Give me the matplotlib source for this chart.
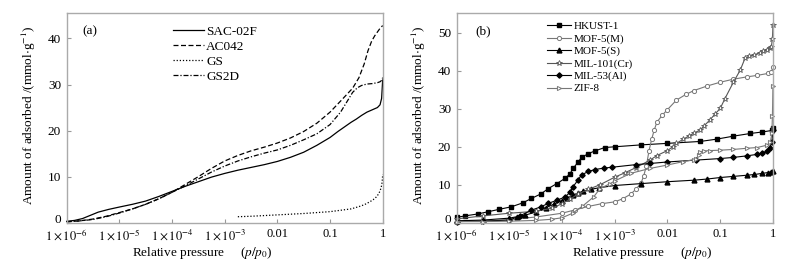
import numpy as np
import matplotlib
matplotlib.use("Agg")
import matplotlib.pyplot as plt
from matplotlib.transforms import ScaledTranslation

plt.rcParams['font.family'] = ['Liberation Serif', 'DejaVu Serif']
plt.rcParams['mathtext.fontset'] = 'stix'

# ---------------- data (a) ----------------
# log10(p/p0) and adsorbed amount (mmol/g)
sac_lp = [-6.0, -5.85, -5.7, -5.55, -5.4, -5.2, -5.0, -4.75, -4.5, -4.25, -4.0, -3.75, -3.5, -3.25, -3.0,
          -2.75, -2.5, -2.25, -2.0, -1.75, -1.5, -1.25, -1.0, -0.85, -0.7, -0.6, -0.5, -0.4, -0.3, -0.2,
          -0.1, -0.05, -0.02, 0.0]
sac_q = [0.3, 0.5, 0.9, 1.6, 2.3, 2.9, 3.4, 4.0, 4.7, 5.7, 6.8, 7.9, 8.9, 9.9, 10.7,
         11.4, 12.0, 12.6, 13.3, 14.2, 15.3, 16.8, 18.5, 19.8, 21.0, 21.8, 22.5, 23.3, 24.0, 24.5,
         25.0, 25.6, 27.0, 31.0]

ac_lp = [-6.0, -5.75, -5.5, -5.25, -5.0, -4.75, -4.5, -4.25, -4.0, -3.75, -3.5, -3.25, -3.0, -2.75,
         -2.5, -2.25, -2.0, -1.75, -1.5, -1.25, -1.0, -0.8, -0.57, -0.45, -0.35, -0.28, -0.21, -0.15,
         -0.1, -0.05, 0.0]
ac_q = [0.2, 0.4, 0.8, 1.4, 2.2, 3.0, 4.0, 5.2, 6.6, 8.3, 10.0, 11.8, 13.4, 14.6,
        15.6, 16.4, 17.3, 18.4, 19.8, 21.6, 24.0, 26.4, 29.2, 31.5, 34.5, 37.3, 39.4, 40.6,
        41.4, 42.2, 42.8]

gs_lp = [-2.75, -2.5, -2.25, -2.0, -1.75, -1.5, -1.25, -1.0, -0.8, -0.6, -0.45, -0.35, -0.25, -0.18,
         -0.12, -0.08, -0.05, -0.03, -0.015, -0.005, 0.0]
gs_q = [1.3, 1.4, 1.55, 1.7, 1.85, 2.0, 2.2, 2.4, 2.7, 3.0, 3.5, 3.9, 4.5, 5.0,
        5.6, 6.2, 6.9, 7.6, 8.4, 9.5, 10.5]

gs2d_lp = [-6.0, -5.75, -5.5, -5.25, -5.0, -4.75, -4.5, -4.25, -4.0, -3.75, -3.5, -3.25, -3.0, -2.75,
           -2.5, -2.25, -2.0, -1.75, -1.5, -1.25, -1.0, -0.8, -0.65, -0.57, -0.48, -0.4, -0.3, -0.2,
           -0.1, -0.05, -0.02, 0.0]
gs2d_q = [0.2, 0.4, 0.7, 1.3, 2.1, 3.0, 4.0, 5.2, 6.6, 8.0, 9.5, 11.0, 12.3, 13.4,
          14.3, 15.1, 15.8, 16.8, 18.0, 19.3, 21.3, 24.0, 26.8, 28.3, 29.3, 29.8, 30.1, 30.2,
          30.4, 30.6, 30.9, 31.5]

# ---------------- data (b) ----------------
hk_lp = [-6.0, -5.84, -5.6, -5.4, -5.2, -4.96, -4.75, -4.58, -4.4, -4.26, -4.1, -3.94, -3.85, -3.79,
         -3.7, -3.63, -3.5, -3.38, -3.19, -3.0, -2.5, -2.0, -1.38, -1.07, -0.75, -0.43, -0.2, -0.02, 0.0]
hk_q = [1.4, 1.8, 2.3, 2.9, 3.5, 4.2, 5.2, 6.4, 7.6, 9.0, 10.3, 11.7, 12.9, 14.3,
        15.9, 17.2, 18.2, 18.9, 19.8, 20.0, 20.5, 20.9, 21.4, 22.0, 22.8, 23.5, 23.9, 24.3, 25.0]

m5m_lp = [-6.0, -5.5, -5.0, -4.5, -4.0, -3.75, -3.5, -3.25, -3.0, -2.85, -2.7, -2.6, -2.5, -2.45,
          -2.4, -2.35, -2.3, -2.25, -2.2, -2.1, -2.0, -1.83, -1.65, -1.5, -1.25, -1.0, -0.75, -0.5,
          -0.3, -0.1, -0.03, 0.0]
m5m_q = [0.5, 0.4, 0.8, 1.5, 2.5, 3.4, 4.3, 5.0, 5.5, 6.3, 7.5, 8.8, 10.5, 12.4,
         15.0, 19.0, 22.0, 24.5, 26.5, 28.3, 29.8, 32.3, 33.8, 34.8, 36.0, 37.0, 37.8, 38.4,
         38.8, 39.3, 39.6, 41.0]

m5s_lp = [-6.0, -5.5, -5.0, -4.85, -4.7, -4.5, -4.3, -4.15, -4.0, -3.9, -3.8, -3.7, -3.6, -3.45,
          -3.3, -3.0, -2.5, -2.0, -1.5, -1.25, -1.0, -0.75, -0.5, -0.35, -0.2, -0.1, -0.03, 0.0]
m5s_q = [0.5, 0.7, 1.2, 1.6, 2.0, 2.8, 4.0, 4.9, 5.8, 6.5, 7.2, 7.8, 8.3, 8.8,
         9.2, 9.8, 10.3, 10.8, 11.2, 11.5, 11.9, 12.2, 12.5, 12.7, 13.0, 13.2, 13.4, 13.6]

m101_lp = [-6.0, -5.5, -5.0, -4.5, -4.2, -4.0, -3.85, -3.7, -3.5, -3.28, -3.0, -2.8, -2.6, -2.33,
           -2.2, -2.0, -1.9, -1.83, -1.7, -1.6, -1.5, -1.38, -1.3, -1.2, -1.1, -1.0, -0.91, -0.75,
           -0.62, -0.53, -0.45, -0.35, -0.25, -0.18, -0.12, -0.06, -0.03, -0.01, 0.0]
m101_q = [1.0, 1.8, 2.5, 3.0, 3.8, 5.0, 6.2, 7.5, 8.8, 10.0, 12.0, 13.2, 14.5, 16.5,
          17.7, 19.0, 20.0, 20.9, 22.0, 22.8, 23.6, 24.4, 25.6, 27.0, 28.6, 30.1, 32.7, 37.0,
          40.2, 43.3, 43.8, 44.2, 44.8, 45.2, 45.6, 46.0, 46.3, 48.5, 52.0]

m53_lp = [-6.0, -5.5, -5.0, -4.8, -4.58, -4.4, -4.26, -4.1, -3.94, -3.85, -3.79, -3.7, -3.63, -3.5,
          -3.38, -3.2, -3.06, -2.6, -2.33, -2.0, -1.45, -1.0, -0.75, -0.5, -0.3, -0.2, -0.12, -0.06,
          -0.02, 0.0]
m53_q = [0.3, 0.4, 0.7, 1.8, 3.3, 4.2, 5.1, 5.9, 6.8, 8.0, 9.5, 11.2, 12.6, 13.5,
         14.0, 14.4, 14.6, 15.3, 15.6, 16.0, 16.5, 16.9, 17.2, 17.6, 18.0, 18.3, 18.8, 19.8,
         21.2, 24.5]

zif_lp = [-6.0, -5.5, -5.0, -4.5, -4.2, -4.0, -3.8, -3.6, -3.4, -3.28, -3.1, -3.0, -2.7, -2.33,
          -2.0, -1.7, -1.5, -1.45, -1.4, -1.38, -1.3, -1.2, -1.0, -0.75, -0.5, -0.3, -0.12, -0.05,
          -0.02, -0.01, 0.0]
zif_q = [0.3, 0.3, 0.4, 0.6, 0.9, 1.3, 2.5, 4.5, 6.8, 9.0, 10.2, 11.0, 13.0, 14.3,
         15.2, 16.1, 16.6, 16.9, 17.8, 18.7, 18.9, 19.0, 19.1, 19.3, 19.6, 19.8, 20.4, 21.2,
         23.5, 28.0, 36.0]

xtick_exp = [-6, -5, -4, -3, -2, -1, 0]
xtick_lab = [r'$1\times10^{-6}$', r'$1\times10^{-5}$', r'$1\times10^{-4}$', r'$1\times10^{-3}$',
             '0.01', '0.1', '1']


def p(lp):
    return 10.0 ** np.array(lp)


def style_axes(ax, ymax, yticks, labx):
    ax.set_xscale('log')
    ax.set_xlim(1e-6, 1)
    ax.set_ylim(0, ymax)
    ax.set_xticks(10.0 ** np.array(xtick_exp))
    ax.set_xticklabels(xtick_lab)
    ax.minorticks_off()
    ax.set_yticks(yticks)
    for s in ax.spines.values():
        s.set_color('#aaaaaa')
        s.set_linewidth(1.0)
    ax.tick_params(direction='in', length=3, width=0.8, color='#999999', labelsize=9.5, pad=4)
    ax.tick_params(axis='x', labelsize=9, pad=4)
    ax.set_ylabel(r'Amount of adsorbed /(mmol$\cdot$g$^{-1}$)', fontsize=9.5)
    ax.set_xlabel(r'Relative pressure     ($p/p_0$)', fontsize=9.5)
    ax.yaxis.set_label_coords(-0.09, 0.51)
    ax.xaxis.set_label_coords(labx, -0.105)


fig = plt.figure(figsize=(7.9, 2.61), dpi=100)
ax1 = fig.add_axes([0.0844, 0.1467, 0.400, 0.803])
ax2 = fig.add_axes([0.578, 0.1467, 0.4004, 0.803])

# (a)
ax1.plot(p(sac_lp), sac_q, color='k', lw=0.9, ls='-', label='SAC-02F', clip_on=False)
ax1.plot(p(ac_lp), ac_q, color='k', lw=0.9, ls=(0, (4, 2)), label='AC042', clip_on=False)
ax1.plot(p(gs_lp), gs_q, color='k', lw=0.9, ls=(0, (1, 1.5)), label='GS', clip_on=False)
ax1.plot(p(gs2d_lp), gs2d_q, color='k', lw=0.9, ls=(0, (4, 1.5, 1, 1.5)), label='GS2D', clip_on=False)
style_axes(ax1, 45.5, [0, 10, 20, 30, 40], 0.43)
ax1.text(0.05, 0.9, '(a)', transform=ax1.transAxes, fontsize=9.5)
ax1.legend(loc='upper left', bbox_to_anchor=(0.335, 0.94), frameon=False, fontsize=9.5,
           handlelength=2.4, handletextpad=0.15, labelspacing=0.2, borderpad=0, borderaxespad=0)

# (b)
ms = 3
ax2.plot(p(hk_lp), hk_q, color='k', lw=0.8, marker='s', ms=ms, label='HKUST-1', clip_on=False)
ax2.plot(p(m5m_lp), m5m_q, color='#777777', lw=0.8, marker='o', ms=ms, mfc='white',
         mew=0.7, label='MOF-5(M)', clip_on=False)
ax2.plot(p(m5s_lp), m5s_q, color='k', lw=0.8, marker='^', ms=ms + 0.5, label='MOF-5(S)', clip_on=False)
ax2.plot(p(m101_lp), m101_q, color='#555555', lw=0.8, marker='*', ms=ms + 1, mfc='white',
         mew=0.6, label='MIL-101(Cr)', clip_on=False)
ax2.plot(p(m53_lp), m53_q, color='k', lw=0.8, marker='D', ms=ms - 0.3, label='MIL-53(Al)', clip_on=False)
ax2.plot(p(zif_lp), zif_q, color='#777777', lw=0.8, marker='>', ms=ms, mfc='white',
         mew=0.7, label='ZIF-8', clip_on=False)
style_axes(ax2, 55.2, [0, 10, 20, 30, 40, 50], 0.586)
ax2.text(0.06, 0.9, '(b)', transform=ax2.transAxes, fontsize=9.5)
ax2.legend(loc='upper left', bbox_to_anchor=(0.285, 0.96), frameon=False, fontsize=8,
           handlelength=2.2, handletextpad=0.2, labelspacing=0.22, borderpad=0, borderaxespad=0)

# nudge the "0" y label up a little so it clears the first x label
for ax in (ax1, ax2):
    lab0 = ax.get_yticklabels()[0]
    lab0.set_transform(lab0.get_transform() + ScaledTranslation(0, 3 / 72, fig.dpi_scale_trans))

plt.savefig('out.png', dpi=100)
